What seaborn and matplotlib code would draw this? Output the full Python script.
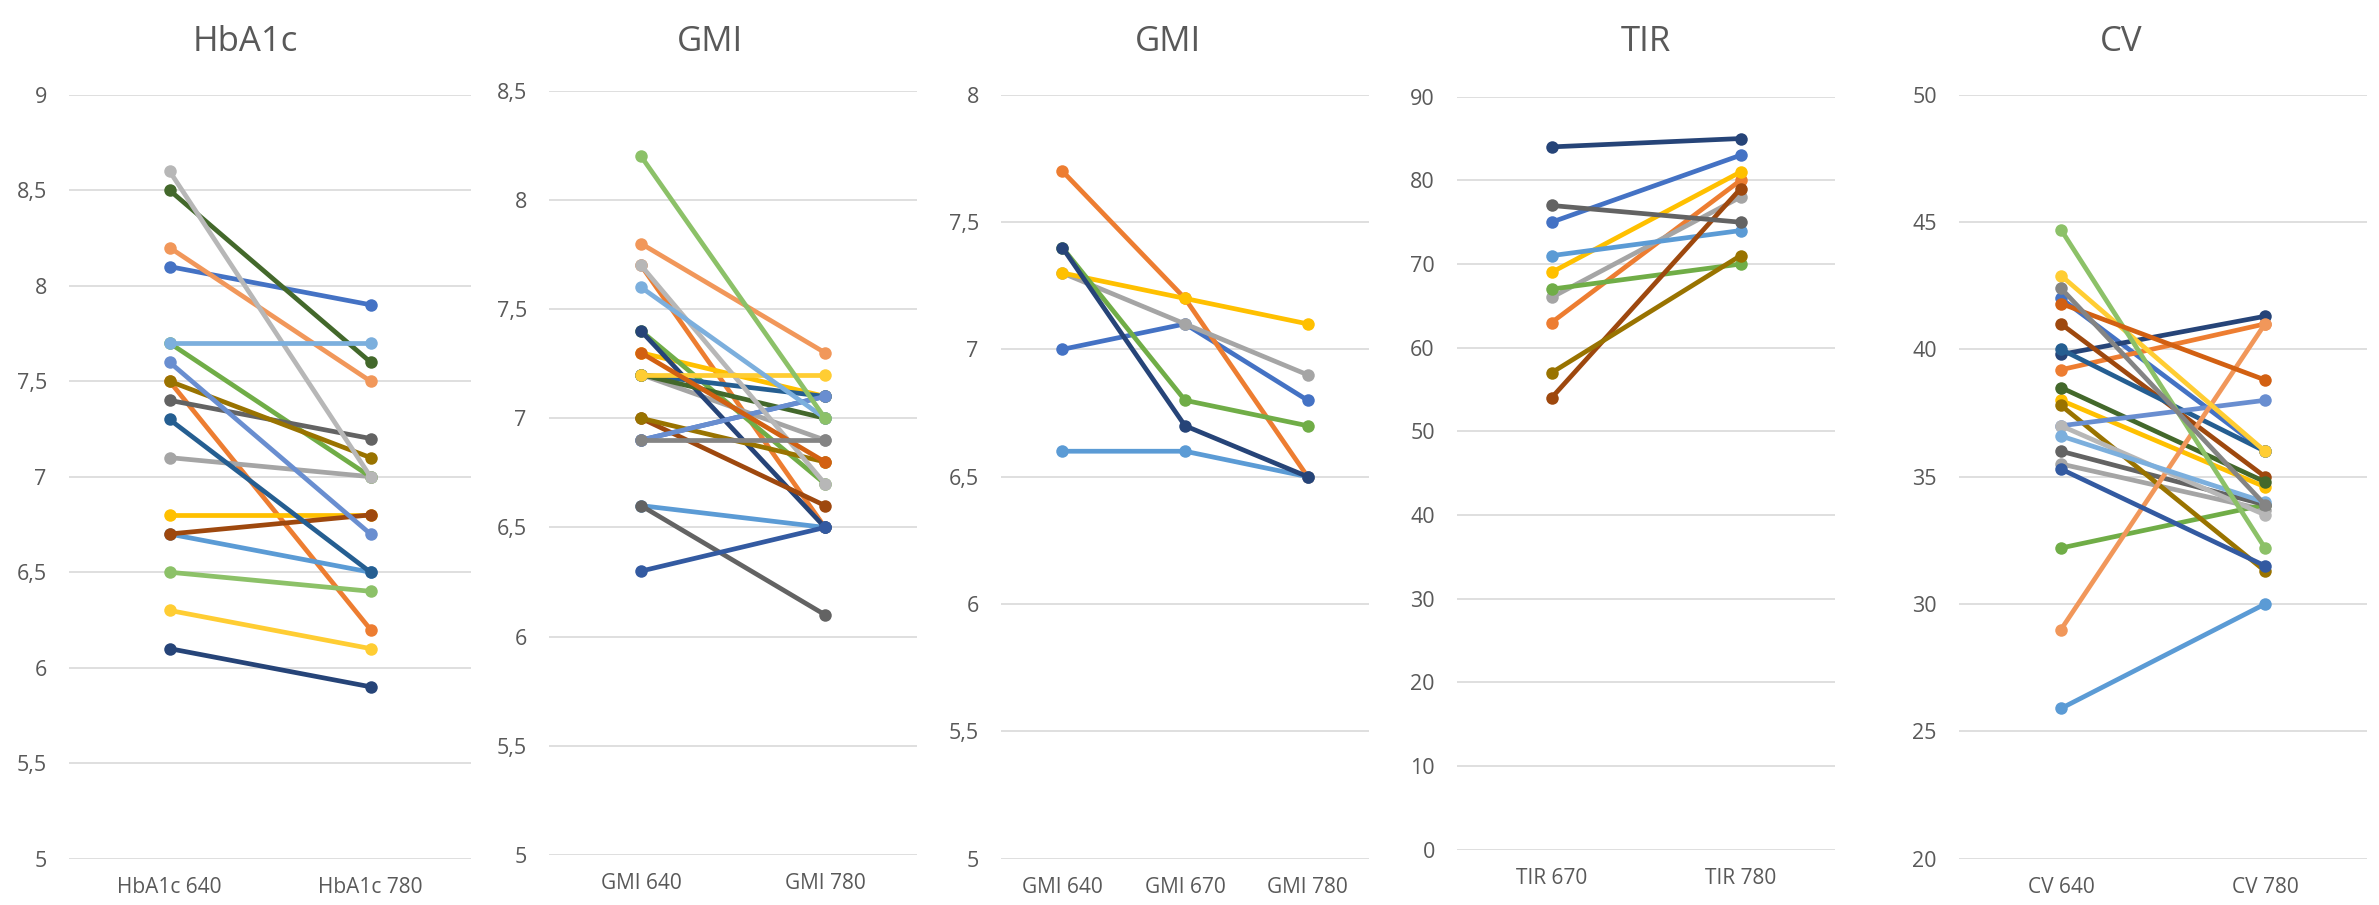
import numpy as np
import pandas as pd
import matplotlib
matplotlib.use("Agg")
import matplotlib.pyplot as plt
from matplotlib.ticker import FuncFormatter, MultipleLocator
import seaborn as sns

# ---------------- data ----------------
series_colors = ['#4472C4', '#ED7D31', '#A5A5A5', '#FFC000', '#5B9BD5', '#70AD47',
                 '#264478', '#9E480E', '#636363', '#997300', '#255E91', '#43682B',
                 '#698ED0', '#F1975A', '#B7B7B7', '#FFCD33', '#7CAFDD', '#8CC168',
                 '#335AA1', '#D26012', '#848484']

hba1c_labels = ["HbA1c 640", "HbA1c 780"]
hba1c_640 = [8.1, 7.5, 7.1, 6.8, 6.7, 7.7, 6.1, 6.7, 7.4, 7.5, 7.3, 8.5, 7.6, 8.2, 8.6, 6.3, 7.7, 6.5]
hba1c_780 = [7.9, 6.2, 7.0, 6.8, 6.5, 7.0, 5.9, 6.8, 7.2, 7.1, 6.5, 7.6, 6.7, 7.5, 7.0, 6.1, 7.7, 6.4]

gmi2_labels = ["GMI 640", "GMI 780"]
gmi2_640 = [6.9, 7.7, 7.2, 7.3, 6.6, 7.4, 7.4, 7.0, 6.6, 7.0, 7.2, 7.2, 6.9, 7.8, 7.7, 7.2, 7.6, 8.2, 6.3, 7.3, 6.9]
gmi2_780 = [7.1, 6.5, 6.9, 7.1, 6.5, 6.7, 6.5, 6.6, 6.1, 6.8, 7.1, 7.0, 7.1, 7.3, 6.7, 7.2, 7.0, 7.0, 6.5, 6.8, 6.9]

gmi3_labels = ["GMI 640", "GMI 670", "GMI 780"]
gmi3_640 = [7.0, 7.7, 7.3, 7.3, 6.6, 7.4, 7.4]
gmi3_670 = [7.1, 7.2, 7.1, 7.2, 6.6, 6.8, 6.7]
gmi3_780 = [6.8, 6.5, 6.9, 7.1, 6.5, 6.7, 6.5]

tir_labels = ["TIR 670", "TIR 780"]
tir_670 = [75, 63, 66, 69, 71, 67, 84, 54, 77, 57]
tir_780 = [83, 80, 78, 81, 74, 70, 85, 79, 75, 71]

cv_labels = ["CV 640", "CV 780"]
cv_640 = [42.0, 39.2, 35.5, 38.0, 25.9, 32.2, 39.8, 41.0, 36.0, 37.8, 40.0, 38.5, 37.0, 29.0, 37.0, 42.9, 36.6, 44.7, 35.3, 41.8, 42.4]
cv_780 = [36.0, 41.0, 33.7, 34.6, 30.0, 33.9, 41.3, 35.0, 33.9, 31.3, 36.0, 34.8, 38.0, 41.0, 33.5, 36.0, 34.0, 32.2, 31.5, 38.8, 33.9]

titles = ["HbA1c", "GMI", "GMI", "TIR", "CV"]

# ---------------- style ----------------
sns.set_theme(style="white")
plt.rcParams['font.family'] = ['Open Sans', 'DejaVu Sans']

TEXT = '#595959'
GRID = '#D9D9D9'
W, H = 2379, 905

fig = plt.figure(figsize=(W / 100, H / 100), dpi=100)

panels = [
    dict(labels=hba1c_labels, cols=[hba1c_640, hba1c_780], ylim=(5, 9), step=0.5,
         box=(69, 471, 94.7, 858.7), title_x=245),
    dict(labels=gmi2_labels, cols=[gmi2_640, gmi2_780], ylim=(5, 8.5), step=0.5,
         box=(549, 917, 90.7, 855), title_x=710),
    dict(labels=gmi3_labels, cols=[gmi3_640, gmi3_670, gmi3_780], ylim=(5, 8), step=0.5,
         box=(1001, 1369, 94.7, 858.7), title_x=1168),
    dict(labels=tir_labels, cols=[tir_670, tir_780], ylim=(0, 90), step=10,
         box=(1457, 1835, 96.7, 849.7), title_x=1646),
    dict(labels=cv_labels, cols=[cv_640, cv_780], ylim=(20, 50), step=5,
         box=(1959, 2367, 94.7, 858.7), title_x=2121),
]


def comma_fmt(v, pos):
    s = ('%g' % round(v, 2))
    return s.replace('.', ',')


for p, title in zip(panels, titles):
    x0, x1, ytop, ybot = p['box']
    ax = fig.add_axes([x0 / W, 1 - ybot / H, (x1 - x0) / W, (ybot - ytop) / H])
    n_series = len(p['cols'][0])
    rows = []
    for ci, (lab, col) in enumerate(zip(p['labels'], p['cols'])):
        for si, v in enumerate(col):
            rows.append(dict(series=si, pos=ci, value=v))
    df = pd.DataFrame(rows)
    pal = {i: series_colors[i] for i in range(n_series)}
    sns.lineplot(data=df, x='pos', y='value', hue='series', palette=pal,
                 marker='o', legend=False, ax=ax, sort=False, estimator=None)
    for ln in ax.lines:
        ln.set_linewidth(3.4)
        ln.set_markersize(9)
        ln.set_markeredgewidth(0)
        ln.set_solid_capstyle('round')
        ln.set_clip_on(False)
    ncat = len(p['labels'])
    ax.set_xlim(-0.5, ncat - 0.5)
    ax.set_ylim(*p['ylim'])
    ax.set_xticks(range(ncat))
    ax.set_xticklabels(p['labels'])
    ax.yaxis.set_major_locator(MultipleLocator(p['step']))
    ax.yaxis.set_major_formatter(FuncFormatter(comma_fmt))
    ax.grid(axis='y', color=GRID, linewidth=1.2)
    ax.grid(axis='x', visible=False)
    ax.set_axisbelow(True)
    for s in ax.spines.values():
        s.set_visible(False)
    ax.tick_params(axis='y', length=0, pad=16, labelsize=15.5, labelcolor=TEXT)
    ax.tick_params(axis='x', length=0, pad=13, labelsize=15, labelcolor=TEXT)
    ax.set_xlabel('')
    ax.set_ylabel('')
    fig.text(p['title_x'] / W, 1 - 42 / H, title, ha='center', va='center',
             fontsize=25, color=TEXT)

fig.savefig('out.png', dpi=100, facecolor='white')
